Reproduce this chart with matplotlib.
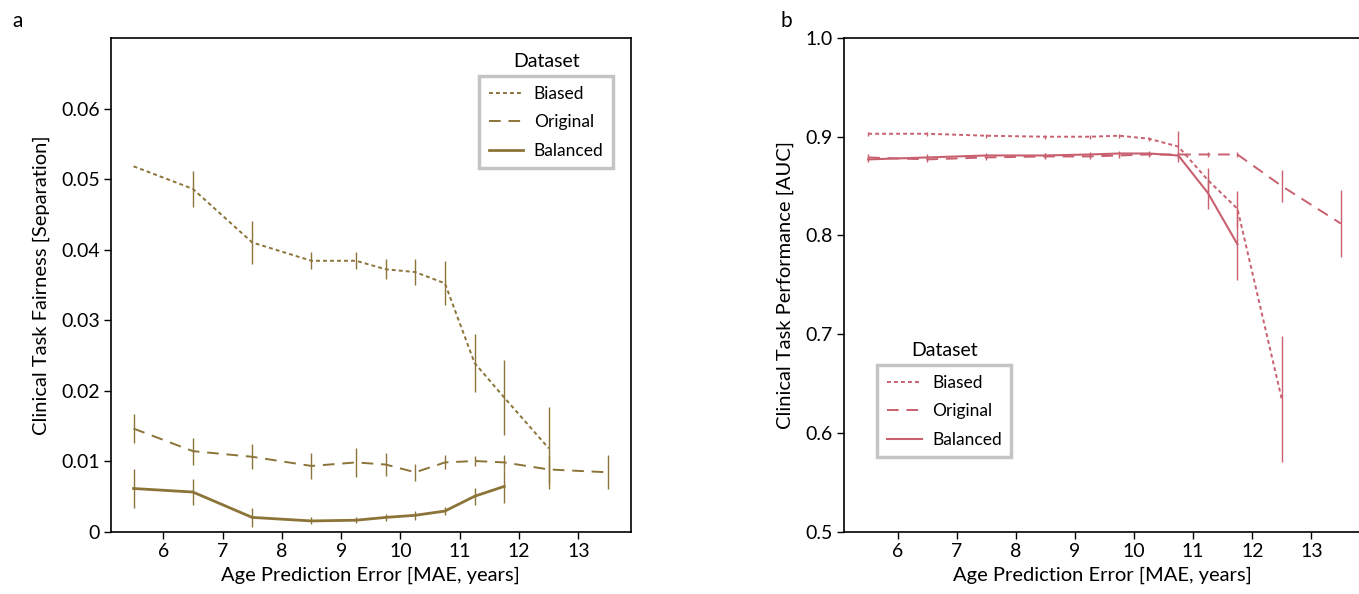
import numpy as np
import matplotlib
matplotlib.use('Agg')
import matplotlib.pyplot as plt

plt.rcParams['font.family'] = ['Lato', 'DejaVu Sans']

# MAE bins shared by all curves
mae = [5.5, 6.5, 7.5, 8.5, 9.25, 9.75, 10.25, 10.75, 11.25, 11.75, 12.5, 13.5]

# panel a: separation
sep_biased = [0.0518, 0.0486, 0.0410, 0.0384, 0.0384, 0.0372, 0.0368, 0.0352, 0.0239, 0.0190, 0.0118]
sep_biased_err = [0.0, 0.0026, 0.0031, 0.0012, 0.0012, 0.0014, 0.0019, 0.0031, 0.0041, 0.0053, 0.0058]
sep_original = [0.0146, 0.0114, 0.0106, 0.0093, 0.0098, 0.0095, 0.0084, 0.0098, 0.0100, 0.0098, 0.0088, 0.0084]
sep_original_err = [0.0020, 0.0019, 0.0018, 0.0018, 0.0020, 0.0016, 0.0012, 0.0010, 0.0007, 0.0011, 0.0019, 0.0024]
sep_balanced = [0.0061, 0.0056, 0.0020, 0.0015, 0.0016, 0.0020, 0.0023, 0.0029, 0.0050, 0.0064]
sep_balanced_err = [0.0028, 0.0019, 0.0013, 0.0005, 0.0004, 0.0005, 0.0006, 0.0006, 0.0012, 0.0023]

# panel b: AUC
auc_biased = [0.903, 0.903, 0.901, 0.900, 0.900, 0.901, 0.898, 0.890, 0.856, 0.827, 0.634]
auc_biased_err = [0.002, 0.002, 0.002, 0.002, 0.002, 0.002, 0.002, 0.016, 0.012, 0.018, 0.064]
auc_original = [0.879, 0.877, 0.879, 0.880, 0.880, 0.881, 0.882, 0.882, 0.882, 0.882, 0.850, 0.812]
auc_original_err = [0.003, 0.003, 0.003, 0.003, 0.003, 0.003, 0.003, 0.003, 0.003, 0.003, 0.016, 0.034]
auc_balanced = [0.877, 0.879, 0.881, 0.881, 0.882, 0.883, 0.883, 0.881, 0.843, 0.791]
auc_balanced_err = [0.003, 0.003, 0.003, 0.003, 0.003, 0.003, 0.003, 0.003, 0.016, 0.036]

styles = {'Biased': (0, (2, 1.6)), 'Original': (0, (6, 4)), 'Balanced': '-'}


def draw_panel(ax, color, series, lw_solid):
    for name, vals, errs in series:
        x = mae[:len(vals)]
        lw = lw_solid if name == 'Balanced' else 1.4
        ax.errorbar(x, vals, yerr=errs, color=color, ls=styles[name], lw=lw,
                    elinewidth=1, capsize=0, label=name)
    ax.tick_params(direction='out', length=5, width=1, labelsize=14, pad=3)
    for s in ax.spines.values():
        s.set_linewidth(1.2)
    ax.set_xticks(range(6, 14))
    ax.set_xlabel('Age Prediction Error [MAE, years]', fontsize=14.5, labelpad=5)


def add_legend(ax, anchor, loc):
    handles, labels = ax.get_legend_handles_labels()
    handles = [h[0] for h in handles]
    leg = ax.legend(handles, labels, loc=loc, bbox_to_anchor=anchor, fontsize=12.5,
                    handlelength=2.0, handletextpad=0.6, labelspacing=0.72,
                    borderpad=0.55, fancybox=False, framealpha=1)
    leg.get_frame().set_edgecolor('#c4c4c4')
    leg.get_frame().set_linewidth(2.5)
    return leg


fig = plt.figure(figsize=(13.59, 5.94), dpi=100)
ax1 = fig.add_axes([0.0817, 0.1052, 0.3823, 0.8308])
ax2 = fig.add_axes([0.6210, 0.1052, 0.3800, 0.8308])

gold = '#8c7438'
rose = '#c9606f'

draw_panel(ax1, gold, [('Biased', sep_biased, sep_biased_err),
                       ('Original', sep_original, sep_original_err),
                       ('Balanced', sep_balanced, sep_balanced_err)], 2.0)
ax1.set_xlim(5.12, 13.88)
ax1.set_ylim(0, 0.07)
ax1.set_yticks([0, 0.01, 0.02, 0.03, 0.04, 0.05, 0.06])
ax1.set_yticklabels(['0', '0.01', '0.02', '0.03', '0.04', '0.05', '0.06'])
ax1.set_ylabel('Clinical Task Fairness [Separation]', fontsize=14.5, labelpad=8)

draw_panel(ax2, rose, [('Biased', auc_biased, auc_biased_err),
                       ('Original', auc_original, auc_original_err),
                       ('Balanced', auc_balanced, auc_balanced_err)], 1.5)
ax2.set_xlim(5.09, 13.83)
ax2.set_ylim(0.5, 1.0)
ax2.set_yticks([0.5, 0.6, 0.7, 0.8, 0.9, 1.0])
ax2.set_yticklabels(['0.5', '0.6', '0.7', '0.8', '0.9', '1.0'])
ax2.set_ylabel('Clinical Task Performance [AUC]', fontsize=14.5, labelpad=8)

leg1 = add_legend(ax1, (0.983, 0.94), 'upper right')
leg2 = add_legend(ax2, (0.048, 0.133), 'lower left')

# legend titles sit above the frames
fig.canvas.draw()
for leg in (leg1, leg2):
    bb = leg.get_window_extent().transformed(fig.transFigure.inverted())
    fig.text((bb.x0 + bb.x1) / 2, bb.y1 + 0.01, 'Dataset', ha='center', va='bottom',
             fontsize=14)

fig.text(0.009, 0.965, 'a', fontsize=15, va='center')
fig.text(0.574, 0.965, 'b', fontsize=15, va='center')

fig.savefig('out.png', dpi=100)
